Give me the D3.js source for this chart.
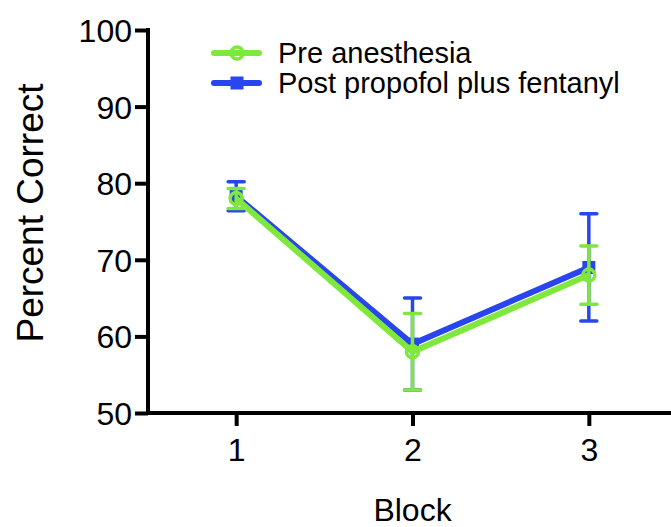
<!DOCTYPE html>
<html>
<head>
<meta charset="utf-8">
<script src="https://cdn.jsdelivr.net/npm/d3@7"></script>
<style>
  html, body { margin: 0; padding: 0; background: #fff; }
  svg { display: block; }
  text { font-family: "Liberation Sans", Arial, Helvetica, sans-serif; fill: #000; }
</style>
</head>
<body>
<svg id="chart" width="671" height="527"></svg>
<script>
// Percent correct per block, mean ± error
const blocks = [1, 2, 3];
const preMean = [78, 58, 68];
const preErr = [1.3, 5, 3.8];
const postMean = [78.3, 59, 69];
const postErr = [1.9, 6, 7];
const yTicks = [50, 60, 70, 80, 90, 100];
const seriesNames = ["Pre anesthesia", "Post propofol plus fentanyl"];

const GREEN = "#7ee83c";
const BLUE = "#2845ee";

const svg = d3.select("#chart");

const x = d3.scaleLinear().domain([0.5, 3.5]).range([148, 677]);
const y = d3.scaleLinear().domain([50, 100]).range([413, 30]);

// Axes
const yAxis = svg.append("g")
  .attr("transform", `translate(${x.range()[0]},0)`)
  .call(d3.axisLeft(y).tickValues(yTicks).tickSize(13).tickSizeOuter(0).tickPadding(3));
const xAxis = svg.append("g")
  .attr("transform", `translate(0,${y.range()[0]})`)
  .call(d3.axisBottom(x).tickValues(blocks).tickSize(13).tickSizeOuter(0).tickPadding(12).tickFormat(d3.format("d")));

[yAxis, xAxis].forEach(g => {
  g.select(".domain").attr("stroke", "#000").attr("stroke-width", 4);
  g.selectAll(".tick line").attr("stroke", "#000").attr("stroke-width", 4);
  g.selectAll(".tick text").style("font-size", "32px").attr("fill", "#000");
});
yAxis.select(".domain").attr("d", `M0,${y(100) - 2}V${y(50) + 2}`);
xAxis.select(".domain").attr("d", `M${x.range()[0] - 2},0H${x.range()[1]}`);
yAxis.selectAll(".tick text").attr("dy", "0.36em");

// Axis titles
svg.append("text")
  .attr("transform", `translate(43,213) rotate(-90)`)
  .attr("text-anchor", "middle")
  .style("font-size", "37px")
  .text("Percent Correct");
svg.append("text")
  .attr("x", x(2))
  .attr("y", 521)
  .attr("text-anchor", "middle")
  .style("font-size", "32px")
  .text("Block");

// Series drawing
function drawSeries(means, errs, color, marker) {
  const g = svg.append("g");
  const pts = blocks.map((b, i) => ({ b, m: means[i], e: errs[i] }));
  // error bars
  pts.forEach(p => {
    g.append("line")
      .attr("x1", x(p.b)).attr("x2", x(p.b))
      .attr("y1", y(p.m + p.e)).attr("y2", y(p.m - p.e))
      .attr("stroke", color).attr("stroke-width", 3.5);
    [p.m + p.e, p.m - p.e].forEach(v => {
      g.append("line")
        .attr("x1", x(p.b) - 8).attr("x2", x(p.b) + 8)
        .attr("y1", y(v)).attr("y2", y(v))
        .attr("stroke", color).attr("stroke-width", 3.5)
        .attr("stroke-linecap", "round");
    });
  });
  // connecting line
  g.append("path")
    .datum(pts)
    .attr("d", d3.line().x(d => x(d.b)).y(d => y(d.m)))
    .attr("fill", "none")
    .attr("stroke", color)
    .attr("stroke-width", 6);
  // markers
  pts.forEach(p => marker(g, x(p.b), y(p.m)));
}

const squareMarker = (g, cx, cy) =>
  g.append("rect").attr("x", cx - 6.5).attr("y", cy - 6.5)
    .attr("width", 13).attr("height", 13).attr("fill", BLUE);
const circleMarker = (g, cx, cy) =>
  g.append("circle").attr("cx", cx).attr("cy", cy).attr("r", 6)
    .attr("fill", "none").attr("stroke", GREEN).attr("stroke-width", 3.5);

drawSeries(postMean, postErr, BLUE, squareMarker);
drawSeries(preMean, preErr, GREEN, circleMarker);

// Legend
const legend = svg.append("g");
const legendItems = [
  { name: seriesNames[0], color: GREEN, marker: circleMarker, y: 53 },
  { name: seriesNames[1], color: BLUE, marker: squareMarker, y: 83 }
];
legendItems.forEach(it => {
  legend.append("line")
    .attr("x1", 214).attr("x2", 259)
    .attr("y1", it.y).attr("y2", it.y)
    .attr("stroke", it.color).attr("stroke-width", 6)
    .attr("stroke-linecap", "round");
  it.marker(legend, 237, it.y);
  legend.append("text")
    .attr("x", 278).attr("y", it.y + 10)
    .style("font-size", "29px")
    .text(it.name);
});
</script>
</body>
</html>
